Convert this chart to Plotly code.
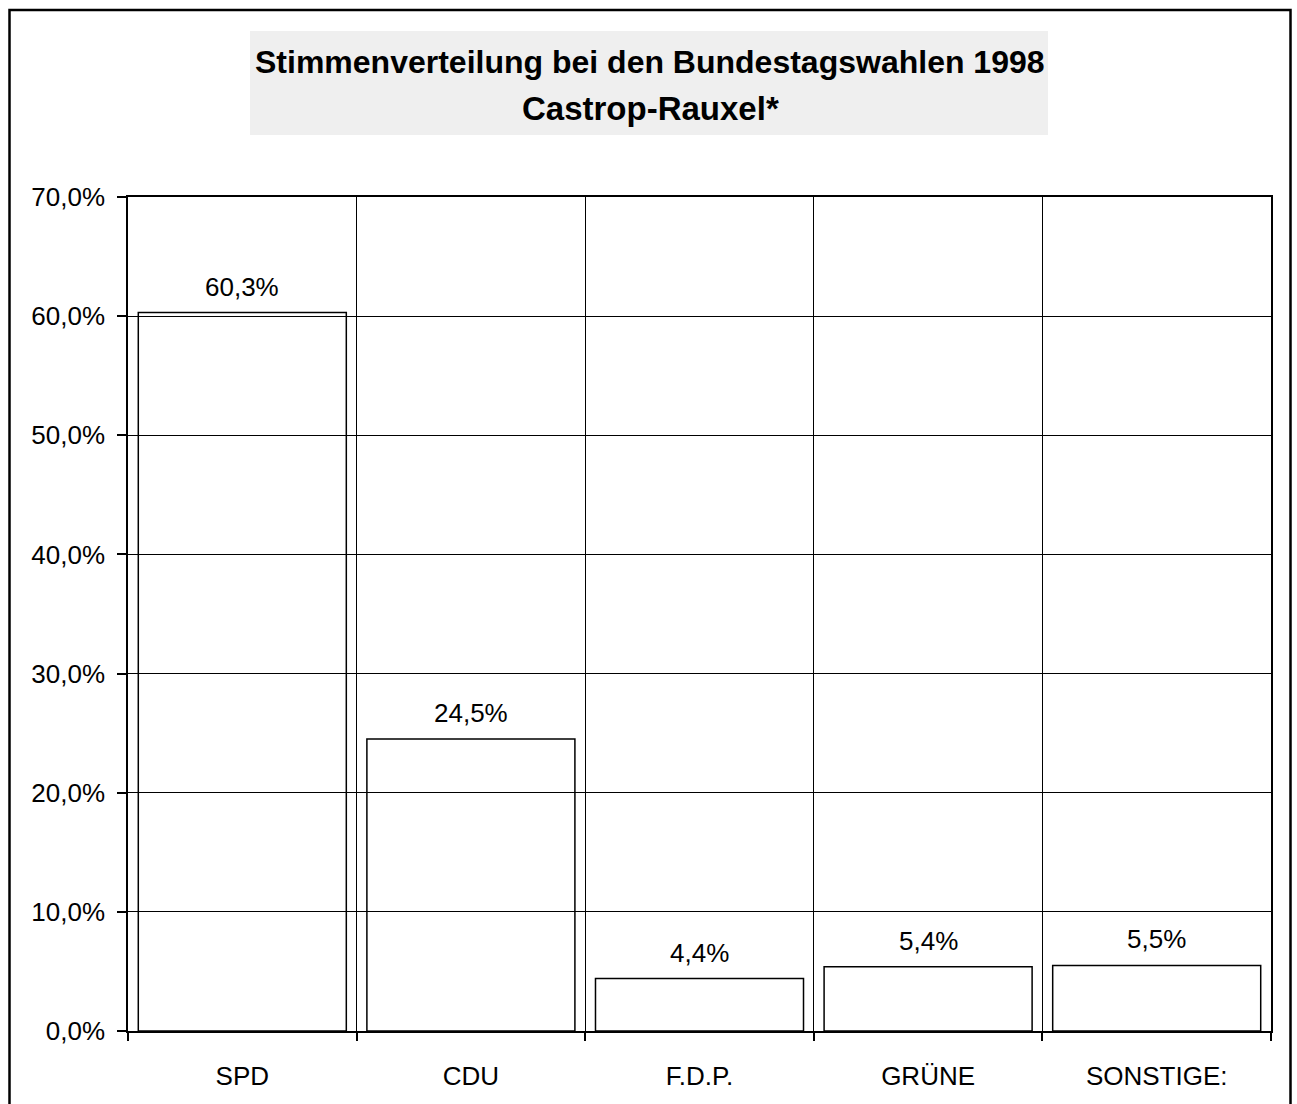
import plotly.graph_objects as go

parties = ["SPD", "CDU", "F.D.P.", "GRÜNE", "SONSTIGE:"]
shares = [60.3, 24.5, 4.4, 5.4, 5.5]
y_ticks = [0, 10, 20, 30, 40, 50, 60, 70]
title_line1 = "Stimmenverteilung bei den Bundestagswahlen 1998"
title_line2 = "Castrop-Rauxel*"

FONT = "Liberation Sans, Arial, sans-serif"
W, H = 1297, 1104
# reference page-pixel positions of the plot area
PL, PR, PT, PB = 128, 1271, 197, 1031
ML, MT = PL, PT
MR, MB = W - PR, H - PB
pw, ph = PR - PL, PB - PT

def px_x(p):
    return (p - PL) / pw

def px_y(p):
    return (PB - p) / ph

def fmt(v, suffix="%"):
    return f"{v:.1f}".replace(".", ",") + suffix

idx = list(range(len(parties)))
bounds = [i - 0.5 for i in idx] + [len(parties) - 0.5]

fig = go.Figure()
fig.add_trace(go.Bar(
    x=idx, y=shares, width=0.91,
    marker=dict(color="rgba(0,0,0,0)", line=dict(color="black", width=1.5)),
    hoverinfo="skip", showlegend=False,
))
fig.add_trace(go.Scatter(x=[bounds[0], bounds[-1]], y=[0, 0], xaxis="x2",
                         mode="markers", marker=dict(opacity=0), hoverinfo="skip",
                         showlegend=False))

annotations = []
for i, v in zip(idx, shares):
    annotations.append(dict(
        x=i, y=v, xref="x", yref="y", text=fmt(v),
        showarrow=False, yanchor="bottom", yshift=9,
        font=dict(family=FONT, size=26, color="black"),
    ))
annotations.append(dict(x=px_x(650), y=px_y(62), xref="paper", yref="paper",
                        text=f"<b>{title_line1}</b>", showarrow=False,
                        xanchor="center", yanchor="middle",
                        font=dict(family=FONT, size=32, color="black")))
annotations.append(dict(x=px_x(650), y=px_y(108), xref="paper", yref="paper",
                        text=f"<b>{title_line2}</b>", showarrow=False,
                        xanchor="center", yanchor="middle",
                        font=dict(family=FONT, size=33, color="black")))

shapes = [
    dict(type="rect", xref="paper", yref="paper",
         x0=px_x(250), x1=px_x(1048), y0=px_y(135), y1=px_y(31),
         fillcolor="#efefef", line=dict(width=0), layer="below"),
    dict(type="rect", xref="paper", yref="paper",
         x0=px_x(9.5), x1=px_x(1290.5), y0=px_y(1130), y1=px_y(10),
         fillcolor="rgba(0,0,0,0)", line=dict(color="black", width=2.5)),
]

fig.update_layout(
    width=W, height=H,
    margin=dict(l=ML, r=MR, t=MT, b=MB, pad=0),
    paper_bgcolor="white", plot_bgcolor="white",
    font=dict(family=FONT, size=26, color="black"),
    annotations=annotations, shapes=shapes,
    xaxis=dict(
        range=[bounds[0], bounds[-1]], tickmode="array", tickvals=idx, ticktext=parties,
        showgrid=False, ticks="", showline=True, linecolor="black", linewidth=1.5,
        mirror=True, zeroline=False, ticklabelstandoff=21,
        tickfont=dict(family=FONT, size=26, color="black"),
    ),
    xaxis2=dict(
        overlaying="x", anchor="y", side="bottom",
        range=[bounds[0], bounds[-1]], tickmode="array", tickvals=bounds,
        showticklabels=False, showgrid=True, gridcolor="black", gridwidth=1,
        ticks="outside", ticklen=9, tickwidth=1.5, tickcolor="black",
        showline=False, zeroline=False,
    ),
    yaxis=dict(
        range=[0, 70], tickmode="array", tickvals=y_ticks,
        ticktext=[fmt(v) for v in y_ticks],
        showgrid=True, gridcolor="black", gridwidth=1,
        ticks="outside", ticklen=9, tickwidth=1.5, tickcolor="black",
        showline=True, linecolor="black", linewidth=1.5, mirror=True,
        zeroline=False, ticklabelstandoff=7,
        tickfont=dict(family=FONT, size=26, color="black"),
    ),
)

fig.write_html(
    "out.html",
    config={"displayModeBar": False},
    post_script="document.body.style.margin='0';document.body.style.overflow='hidden';",
)
